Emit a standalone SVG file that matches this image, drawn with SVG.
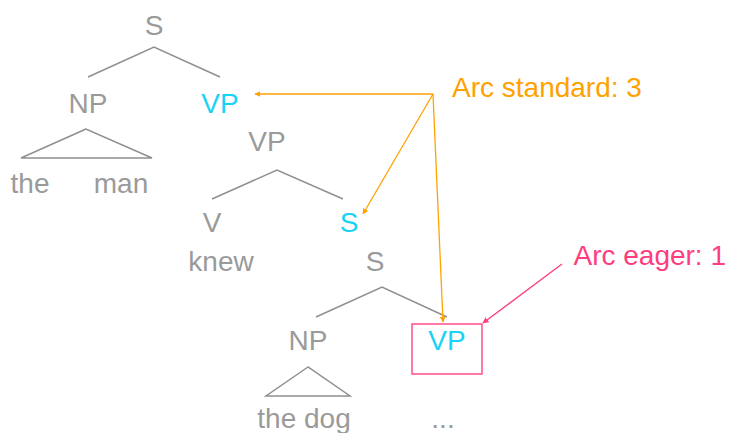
<svg xmlns="http://www.w3.org/2000/svg" width="729" height="433" viewBox="0 0 729 433">
<defs>
<style>
text{font-family:"Liberation Sans",Arial,sans-serif;font-size:28px;text-anchor:middle}
.g{fill:#9a9a9a}
.c{fill:#19D3F5}
.o{fill:#FFA200}
.p{fill:#FF3D7F}
.tl{stroke:#8f8f8f;stroke-width:1.5;fill:none}
.ao{stroke:#FFA200;stroke-width:1.3;fill:none;marker-end:url(#mo)}
.ap{stroke:#FF3D7F;stroke-width:1.3;fill:none;marker-end:url(#mp)}
</style>
<marker id="mo" viewBox="0 0 10 10" refX="9" refY="5" markerWidth="6" markerHeight="6" orient="auto" markerUnits="userSpaceOnUse"><path d="M0,0L10,5L0,10z" fill="#FFA200"/></marker>
<marker id="mp" viewBox="0 0 10 10" refX="9" refY="5" markerWidth="6" markerHeight="6" orient="auto" markerUnits="userSpaceOnUse"><path d="M0,0L10,5L0,10z" fill="#FF3D7F"/></marker>
</defs>
<rect width="729" height="433" fill="#fff"/>
<g id="tree1">
<text class="g" x="154" y="35">S</text>
<polyline class="tl" points="88,77 154,47 220,77"/>
<text class="g" x="88" y="113">NP</text>
<text id="vp1" class="c" x="220" y="113">VP</text>
<polygon class="tl" points="86,129 21,158 152,158"/>
<text class="g" x="30" y="193">the</text>
<text class="g" x="121" y="193">man</text>
</g>
<g id="tree2">
<text class="g" x="267" y="151">VP</text>
<polyline class="tl" points="212,199 277,170 343,199"/>
<text class="g" x="212" y="232">V</text>
<text id="s2" class="c" x="349" y="232">S</text>
<text class="g" x="221" y="271">knew</text>
</g>
<g id="tree3">
<text class="g" x="375" y="271">S</text>
<polyline class="tl" points="316,317 382,287 447,317"/>
<text class="g" x="308" y="350">NP</text>
<polygon class="tl" points="308,367 266,396 350,396"/>
<text class="g" x="304" y="428">the dog</text>
<g id="vp3">
<rect x="412" y="324" width="70" height="50" fill="none" stroke="#FF4F8A" stroke-width="1.5"/>
<text class="c" x="447" y="350">VP</text>
</g>
<text class="g" x="443" y="428">...</text>
</g>
<g id="labels">
<text class="o" x="452" y="97" style="text-anchor:start">Arc standard: 3</text>
<text class="p" x="726" y="265" style="text-anchor:end">Arc eager: 1</text>
</g>
<g id="connectors">
<line class="ao" x1="433" y1="94" x2="255" y2="94"/>
<line class="ao" x1="433" y1="94" x2="363" y2="214"/>
<line class="ao" x1="433" y1="94" x2="443" y2="322"/>
<line class="ap" x1="562" y1="264" x2="483" y2="323"/>
</g>
</svg>
